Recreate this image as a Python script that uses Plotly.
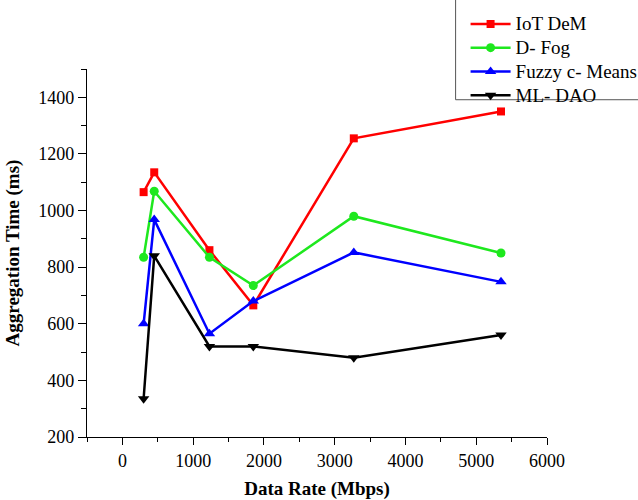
import plotly.graph_objects as go

data_rate = [300, 450, 1230, 1850, 3270, 5350]
iot_dem = [1065, 1135, 860, 665, 1255, 1350]
d_fog = [835, 1068, 835, 735, 980, 850]
fuzzy_c_means = [600, 968, 565, 680, 852, 748]
ml_dao = [335, 840, 520, 520, 480, 560]

series = [
    ("IoT DeM", iot_dem, "#ff0000", "square", 8),
    ("D- Fog", d_fog, "#1ee81e", "circle", 9),
    ("Fuzzy c- Means", fuzzy_c_means, "#0000ff", "triangle-up", 10),
    ("ML- DAO", ml_dao, "#000000", "triangle-down", 10),
]

FONT = "Liberation Serif, Times New Roman, serif"

fig = go.Figure()
for name, vals, color, sym, size in series:
    fig.add_trace(go.Scatter(
        x=data_rate, y=vals, name='<span style="font-size:19px">' + name + '</span>',
        mode="lines+markers",
        line=dict(color=color, width=2.5),
        marker=dict(symbol=sym, size=size, color=color),
    ))

# legend frame (left and bottom edges visible; top/right fall off the canvas)
for x0, y0, x1, y1 in [(0.8013, 0.9165, 0.8013, 1.25), (0.8013, 0.9165, 1.25, 0.9165)]:
    fig.add_shape(type="line", xref="paper", yref="paper", x0=x0, y0=y0, x1=x1, y1=y1,
                  line=dict(color="#555555", width=1))

fig.update_layout(
    width=638, height=500,
    margin=dict(l=87, r=91, t=69, b=63, autoexpand=False),
    paper_bgcolor="white", plot_bgcolor="white",
    font=dict(family=FONT, size=17, color="black"),
    showlegend=True,
    legend=dict(
        x=0.8230, xanchor="left", y=1.1685, yanchor="top",
        bgcolor="rgba(0,0,0,0)", borderwidth=0,
        font=dict(family=FONT, size=16, color="black"),
        itemwidth=40, tracegroupgap=0,
    ),
)
fig.update_xaxes(
    range=[-500, 6000], tickvals=[0, 1000, 2000, 3000, 4000, 5000, 6000],
    showline=True, linecolor="black", linewidth=1.3, mirror=False,
    showgrid=False, zeroline=False,
    ticks="outside", ticklen=7, tickwidth=1.3, tickcolor="black",
    minor=dict(dtick=500, tick0=0, ticks="outside", ticklen=4, tickwidth=1.3, tickcolor="black", showgrid=False),
    tickfont=dict(family=FONT, size=18, color="black"),
    title=dict(text="<b>Data Rate (Mbps)</b>", font=dict(family=FONT, size=19), standoff=17),
)
fig.update_yaxes(
    range=[200, 1500], tickvals=[200, 400, 600, 800, 1000, 1200, 1400],
    showline=True, linecolor="black", linewidth=1.3, mirror=False,
    showgrid=False, zeroline=False,
    ticks="outside", ticklen=8, tickwidth=1.3, tickcolor="black",
    minor=dict(dtick=100, tick0=200, ticks="outside", ticklen=5, tickwidth=1.3, tickcolor="black", showgrid=False),
    tickfont=dict(family=FONT, size=18, color="black"),
    title=dict(text="<b>Aggregation Time (ms)</b>", font=dict(family=FONT, size=19), standoff=13),
)

fig.write_html("out.html")
